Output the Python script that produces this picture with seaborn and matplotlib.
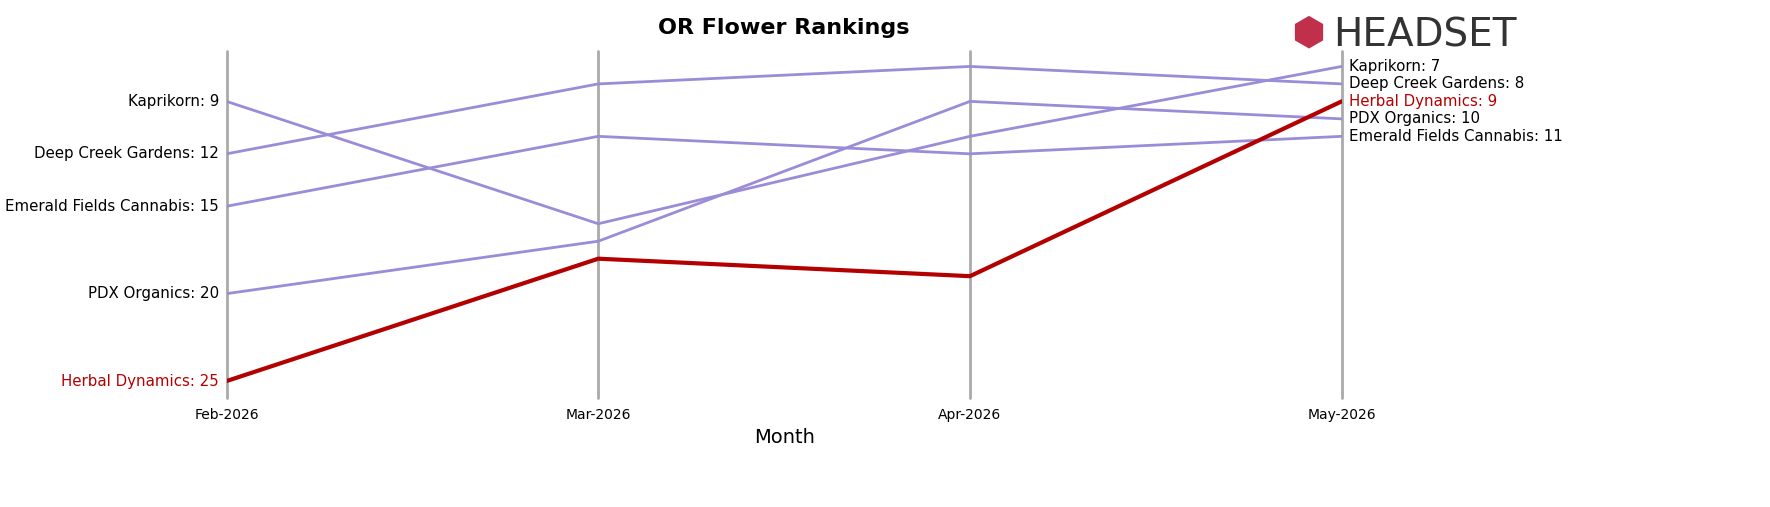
import pandas as pd
import matplotlib.pyplot as plt
import seaborn as sns

months = ['Feb-2026', 'Mar-2026', 'Apr-2026', 'May-2026']
brands = ['Kaprikorn', 'Deep Creek Gardens', 'Emerald Fields Cannabis', 'PDX Organics', 'Herbal Dynamics']
ranks = {
    'Kaprikorn': [9, 16, 11, 7],
    'Deep Creek Gardens': [12, 8, 7, 8],
    'Emerald Fields Cannabis': [15, 11, 12, 11],
    'PDX Organics': [20, 17, 9, 10],
    'Herbal Dynamics': [25, 18, 19, 9],
}
highlight = 'Herbal Dynamics'

rows = []
for b in brands:
    for i, m in enumerate(months):
        rows.append({'Brand': b, 'Month': m, 'x': i, 'Rank': ranks[b][i]})
df = pd.DataFrame(rows)

sns.set_style('white')
fig = plt.figure(figsize=(17.7, 5.07), dpi=100)
ax = fig.add_axes([0.128, 0.215, 0.63, 0.685])

palette = {b: ('#b30000' if b == highlight else '#9b8cd8') for b in brands}
others = df[df['Brand'] != highlight]
sns.lineplot(data=others, x='x', y='Rank', hue='Brand', palette=palette, linewidth=2, legend=False, ax=ax)
sns.lineplot(data=df[df['Brand'] == highlight], x='x', y='Rank', hue='Brand', palette=palette,
             linewidth=3, legend=False, ax=ax)

for i in range(len(months)):
    ax.axvline(i, color='#aaaaaa', linewidth=2, zorder=0, clip_on=False)

ax.set_xlim(0, 3)
ax.set_ylim(25.97, 6.1)
ax.set_xticks(range(len(months)))
ax.set_xticklabels(months, fontsize=10)
ax.tick_params(axis='x', length=4, colors='black')
ax.set_yticks([])
ax.set_ylabel('')
ax.set_xlabel('Month', fontsize=14, color='black')
for s in ax.spines.values():
    s.set_visible(False)

for b in brands:
    c = '#b30000' if b == highlight else 'black'
    ax.text(-0.02, ranks[b][0], f'{b}: {ranks[b][0]}', ha='right', va='center', fontsize=10.8, color=c)

end_order = sorted(brands, key=lambda b: ranks[b][-1])
for b in end_order:
    c = '#b30000' if b == highlight else 'black'
    ax.text(3.02, ranks[b][-1], f'{b}: {ranks[b][-1]}', ha='left', va='center', fontsize=10.8, color=c)

ax.set_title('OR Flower Rankings', fontsize=16, fontweight='bold', pad=12, color='black')
fig.text(0.753, 0.93, 'HEADSET', fontsize=28, color='#333333', va='center', ha='left')
fig.text(0.739, 0.935, '⬢', fontsize=28, color='#c0304a', va='center', ha='center')

fig.savefig('out.png')
